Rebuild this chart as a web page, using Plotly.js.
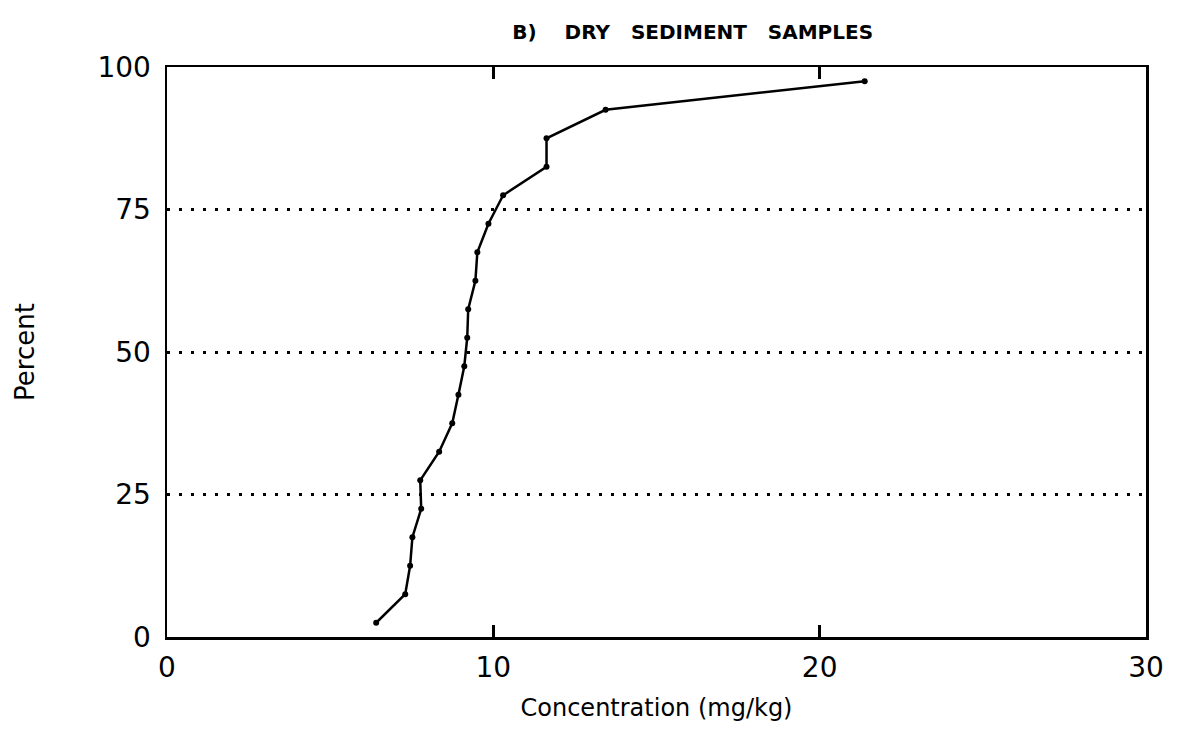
<!DOCTYPE html>
<html>
<head>
<meta charset="utf-8">
<script src="https://cdn.plot.ly/plotly-3.0.1.min.js"></script>
<style>
html,body{margin:0;padding:0;background:#fff;}
#chart{width:1179px;height:749px;}
</style>
</head>
<body>
<div id="chart"></div>
<script>
// Concentration (mg/kg) at each cumulative percent
const concentration = [6.41, 7.3, 7.45, 7.52, 7.79, 7.76, 8.34, 8.74, 8.93, 9.11,
                       9.2, 9.23, 9.45, 9.51, 9.85, 10.3, 11.63, 11.63, 13.44, 21.38];
const percent = [2.5, 7.5, 12.5, 17.5, 22.5, 27.5, 32.5, 37.5, 42.5, 47.5,
                 52.5, 57.5, 62.5, 67.5, 72.5, 77.5, 82.5, 87.5, 92.5, 97.5];
const xTicks = [0, 10, 20, 30];
const yTicks = [0, 25, 50, 75, 100];
const titleText = "B)&nbsp;&nbsp;&nbsp; DRY&nbsp;&nbsp; SEDIMENT&nbsp;&nbsp; SAMPLES";
const xTitle = "Concentration (mg/kg)";
const yTitle = "Percent";

const font = "DejaVu Sans, sans-serif";
const xRange = [0, 30];
const yRange = [0, 100];

const curve = {
  x: concentration,
  y: percent,
  type: "scatter",
  mode: "lines+markers",
  line: {color: "#000", width: 2.5},
  marker: {color: "#000", size: 6},
  hoverinfo: "skip"
};

// inward tick marks at the interior x ticks, bottom and top edges (built from xTicks)
const tickLenY = 2.1; // tick length in y-axis units (about 12 px)
const interior = xTicks.filter(v => v > xRange[0] && v < xRange[1]);
const tickTraces = [];
interior.forEach(v => {
  tickTraces.push({x: [v, v], y: [yRange[0], yRange[0] + tickLenY], type: "scatter", mode: "lines",
    line: {color: "#000", width: 2.5}, hoverinfo: "skip"});
  tickTraces.push({x: [v, v], y: [yRange[1] - tickLenY, yRange[1]], type: "scatter", mode: "lines",
    line: {color: "#000", width: 2.5}, hoverinfo: "skip"});
});

const layout = {
  width: 1179, height: 749,
  margin: {l: 167, r: 33, t: 67, b: 112},
  paper_bgcolor: "#fff", plot_bgcolor: "#fff",
  showlegend: false,
  title: {
    text: titleText,
    font: {family: font, size: 20, color: "#000", weight: "bold"},
    xref: "paper", x: 0.537, xanchor: "center",
    yref: "container", y: 0.957, yanchor: "middle"
  },
  xaxis: {
    range: xRange,
    tickvals: xTicks,
    ticktext: xTicks.map(String),
    ticks: "inside", ticklen: 12, tickwidth: 2.5, tickcolor: "#000",
    showline: true, linecolor: "#000", linewidth: 2.5, mirror: "allticks",
    showgrid: false, zeroline: false,
    tickfont: {family: font, size: 28, color: "#000"},
    ticklabelstandoff: 4,
    title: {text: xTitle, font: {family: font, size: 24, color: "#000"}, standoff: 16}
  },
  yaxis: {
    range: yRange,
    tickvals: yTicks,
    ticktext: yTicks.map(String),
    ticks: "",
    showline: true, linecolor: "#000", linewidth: 2.5, mirror: true,
    showgrid: true, gridcolor: "#000", gridwidth: 3, griddash: "3px,9px",
    zeroline: false,
    tickfont: {family: font, size: 28, color: "#000"},
    ticklabelstandoff: 8,
    title: {text: yTitle, font: {family: font, size: 26, color: "#000"}, standoff: 56}
  }
};

Plotly.newPlot("chart", [curve].concat(tickTraces), layout, {displayModeBar: false, staticPlot: true});
</script>
</body>
</html>
